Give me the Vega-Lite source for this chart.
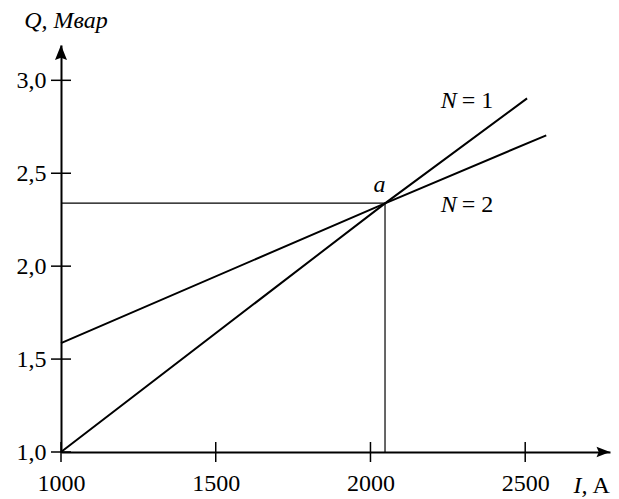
{
  "$schema": "https://vega.github.io/schema/vega-lite/v6.json",
  "width": 549,
  "height": 407,
  "autosize": "none",
  "padding": {"left": 61, "top": 45, "right": 9, "bottom": 47},
  "config": {
    "view": {"stroke": null},
    "text": {"font": "Liberation Serif", "fontSize": 24, "color": "black"}
  },
  "layer": [
    {
      "data": {"values": [
        {"x": 1000, "x2": 2047, "y": 2.339, "y2": 2.339},
        {"x": 2047, "x2": 2047, "y": 1.0, "y2": 2.339}
      ]},
      "mark": {"type": "rule", "color": "black", "strokeWidth": 1.2},
      "encoding": {
        "x": {"field": "x", "type": "quantitative",
          "scale": {"domain": [1000, 2774], "nice": false, "zero": false},
          "axis": {"values": [1000, 1500, 2000, 2500], "format": "d", "title": null, "grid": false,
            "ticks": false, "tickSize": 0, "labelPadding": 19, "labelFlush": false, "labelOverlap": false,
            "domainColor": "black", "domainWidth": 2,
            "labelFont": "Liberation Serif", "labelFontSize": 24, "labelColor": "black"}},
        "x2": {"field": "x2"},
        "y": {"field": "y", "type": "quantitative",
          "scale": {"domain": [1, 3.19], "nice": false, "zero": false},
          "axis": {"values": [1.0, 1.5, 2.0, 2.5, 3.0], "title": null, "grid": false,
            "labelExpr": "replace(format(datum.value, '.1f'), '.', ',')",
            "ticks": false, "tickSize": 0, "labelPadding": 15, "labelOverlap": false,
            "domainColor": "black", "domainWidth": 2,
            "labelFont": "Liberation Serif", "labelFontSize": 24, "labelColor": "black"}},
        "y2": {"field": "y2"}
      }
    },
    {
      "data": {"values": [
        {"I": 1000, "Q": 1.0, "N": "1"},
        {"I": 2047, "Q": 2.338, "N": "1"},
        {"I": 2506, "Q": 2.903, "N": "1"},
        {"I": 1000, "Q": 1.586, "N": "2"},
        {"I": 2047, "Q": 2.338, "N": "2"},
        {"I": 2568, "Q": 2.704, "N": "2"}
      ]},
      "mark": {"type": "line", "color": "black", "strokeWidth": 2},
      "encoding": {
        "x": {"field": "I", "type": "quantitative"},
        "y": {"field": "Q", "type": "quantitative"},
        "detail": {"field": "N"}
      }
    },
    {
      "data": {"values": [{"v": 1000}, {"v": 1500}, {"v": 2000}, {"v": 2500}]},
      "mark": {"type": "tick", "orient": "vertical", "size": 20, "thickness": 1.5, "color": "black", "opacity": 1},
      "encoding": {
        "x": {"field": "v", "type": "quantitative"},
        "y": {"datum": 1.0}
      }
    },
    {
      "data": {"values": [{"v": 1.0}, {"v": 1.5}, {"v": 2.0}, {"v": 2.5}, {"v": 3.0}]},
      "mark": {"type": "tick", "orient": "horizontal", "size": 20, "thickness": 1.5, "color": "black", "opacity": 1},
      "encoding": {
        "y": {"field": "v", "type": "quantitative"},
        "x": {"datum": 1000}
      }
    },
    {
      "data": {"values": [{"I": 1000, "Q": 3.19}]},
      "mark": {"type": "point", "shape": "M0,0L-0.4,1L0,0.85L0.4,1Z", "size": 900, "filled": true, "color": "black", "opacity": 1, "strokeWidth": 0},
      "encoding": {
        "x": {"field": "I", "type": "quantitative"},
        "y": {"field": "Q", "type": "quantitative"}
      }
    },
    {
      "data": {"values": [{"I": 2774, "Q": 1.0}]},
      "mark": {"type": "point", "shape": "M0,0L-0.9,-0.35L-0.75,0L-0.9,0.35Z", "size": 900, "filled": true, "color": "black", "opacity": 1, "strokeWidth": 0},
      "encoding": {
        "x": {"field": "I", "type": "quantitative"},
        "y": {"field": "Q", "type": "quantitative"}
      }
    },
    {
      "data": {"values": [
        {"I": 2285, "Q": 2.849, "t": "N"},
        {"I": 2285, "Q": 2.290, "t": "N"},
        {"I": 2708, "Q": 0.78, "t": "I,"}
      ]},
      "mark": {"type": "text", "fontStyle": "italic", "align": "right", "baseline": "alphabetic", "dx": -2},
      "encoding": {
        "x": {"field": "I", "type": "quantitative"},
        "y": {"field": "Q", "type": "quantitative"},
        "text": {"field": "t"}
      }
    },
    {
      "data": {"values": [
        {"I": 2285, "Q": 2.849, "t": "= 1"},
        {"I": 2285, "Q": 2.290, "t": "= 2"},
        {"I": 2708, "Q": 0.78, "t": "A"}
      ]},
      "mark": {"type": "text", "align": "left", "baseline": "alphabetic", "dx": 3},
      "encoding": {
        "x": {"field": "I", "type": "quantitative"},
        "y": {"field": "Q", "type": "quantitative"},
        "text": {"field": "t"}
      }
    },
    {
      "data": {"values": [
        {"I": 2029, "Q": 2.398, "t": "a"},
        {"I": 1016, "Q": 3.28, "t": "Q, Мвар"}
      ]},
      "mark": {"type": "text", "fontStyle": "italic", "align": "center", "baseline": "alphabetic"},
      "encoding": {
        "x": {"field": "I", "type": "quantitative"},
        "y": {"field": "Q", "type": "quantitative"},
        "text": {"field": "t"}
      }
    }
  ]
}
